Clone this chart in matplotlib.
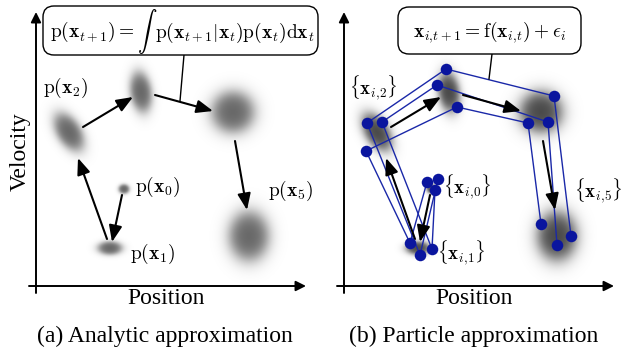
import numpy as np
import matplotlib
matplotlib.use('Agg')
import matplotlib.pyplot as plt
from matplotlib.patches import FancyBboxPatch

plt.rcParams['mathtext.fontset'] = 'cm'
plt.rcParams['font.family'] = ['Liberation Serif', 'DejaVu Serif']

W, H = 622, 347
DX = 308  # horizontal offset of the right panel

# ---- data (pixel-space diagram coordinates) ----
blob_x = [124, 110, 69, 141, 233, 249]
blob_y = [189, 248, 132, 92, 112, 236]
blob_a = [8, 18, 31, 30, 32, 37]      # semi-axis along angle
blob_b = [7, 10, 18, 16, 31, 30]      # perpendicular semi-axis
blob_ang = [0, 0, 58, 82, 0, 90]      # degrees (image coords)

arrow_start = [(122, 195), (107, 239), (83, 127), (155, 95), (235, 141)]
arrow_end = [(112, 242), (78, 158), (133, 97), (213, 111), (247, 210)]

left_labels = [r'$\mathrm{p}(\mathbf{x}_0)$', r'$\mathrm{p}(\mathbf{x}_1)$',
               r'$\mathrm{p}(\mathbf{x}_2)$', r'$\mathrm{p}(\mathbf{x}_5)$']
left_label_pos = [(135, 187), (130, 254), (43, 88), (268, 191)]
right_labels = [r'$\{\mathbf{x}_{i,\!0}\}$', r'$\{\mathbf{x}_{i,\!1}\}$',
                r'$\{\mathbf{x}_{i,\!2}\}$', r'$\{\mathbf{x}_{i,\!5}\}$']
right_label_pos = [(443, 187), (437, 253), (349, 88), (574, 191)]

traj_x = [[438, 420, 367, 446, 554, 571],
          [435, 432, 382, 437, 548, 557],
          [427, 410, 366, 457, 528, 541]]
traj_y = [[179, 255, 123, 69, 96, 236],
          [190, 249, 122, 85, 122, 245],
          [182, 243, 151, 107, 123, 224]]

eq_left_a = r'$\mathrm{p}(\mathbf{x}_{t+1}) = \int$'
eq_left_b = r'$\mathrm{p}(\mathbf{x}_{t+1}|\mathbf{x}_t)\mathrm{p}(\mathbf{x}_t)\mathrm{d}\mathbf{x}_t$'
eq_right = r'$\mathbf{x}_{i,\!t+1} = \mathrm{f}(\mathbf{x}_{i,\!t}) + \epsilon_i$'

fig = plt.figure(figsize=(W / 100, H / 100), dpi=100)
ax = fig.add_axes([0, 0, 1, 1])
ax.set_xlim(0, W)
ax.set_ylim(H, 0)
ax.axis('off')

# ---- blobs ----
yy, xx = np.mgrid[0:H, 0:W] + 0.5
alpha = np.zeros((H, W))
for off, peak in [(0, 0.6), (DX, 0.72)]:
    for cx, cy, a, b, ang in zip(blob_x, blob_y, blob_a, blob_b, blob_ang):
        t = np.deg2rad(ang)
        dx = xx - (cx + off)
        dy = yy - cy
        u = dx * np.cos(t) + dy * np.sin(t)
        v = -dx * np.sin(t) + dy * np.cos(t)
        d = np.sqrt((u / a) ** 2 + (v / b) ** 2)
        al = peak / (1 + np.exp((d - 0.62) / 0.14))
        alpha = 1 - (1 - alpha) * (1 - al)
img = np.zeros((H, W, 4))
img[..., 3] = alpha
ax.imshow(img, extent=(0, W, H, 0), zorder=1, interpolation='bilinear')

# ---- axes arrows ----
for off in [0, DX]:
    ax.annotate('', xy=(36 + off, 12), xytext=(36 + off, 293),
                arrowprops=dict(arrowstyle='-|>', lw=1.4, color='black',
                                mutation_scale=15, shrinkA=0, shrinkB=0), zorder=5)
    ax.annotate('', xy=(306 + off, 286), xytext=(29 + off, 286),
                arrowprops=dict(arrowstyle='-|>', lw=1.4, color='black',
                                mutation_scale=15, shrinkA=0, shrinkB=0), zorder=5)
    ax.text(166 + off, 304, 'Position', fontsize=17, ha='center', va='baseline')

ax.text(20, 152, 'Velocity', fontsize=17, ha='center', va='center', rotation=90)
ax.text(165, 342, '(a) Analytic approximation', fontsize=17, ha='center', va='baseline')
ax.text(474, 342, '(b) Particle approximation', fontsize=17, ha='center', va='baseline')

# ---- transition arrows ----
for off in [0, DX]:
    for s, e in zip(arrow_start, arrow_end):
        ax.annotate('', xy=(e[0] + off, e[1]), xytext=(s[0] + off, s[1]),
                    arrowprops=dict(arrowstyle='-|>,head_length=0.55,head_width=0.22',
                                    lw=1.5, color='black',
                                    mutation_scale=18, shrinkA=0, shrinkB=0), zorder=4)

# ---- particles ----
for tx, ty in zip(traj_x, traj_y):
    ax.plot(tx, ty, color='#1a28a8', lw=1.0, zorder=3)
for tx, ty in zip(traj_x, traj_y):
    ax.plot(tx, ty, 'o', color='#0a159e', ms=8.3, mec='none', zorder=6)

# ---- labels ----
for s, (x, y) in zip(left_labels, left_label_pos):
    ax.text(x, y, s, fontsize=14, ha='left', va='center', zorder=7)
for s, (x, y) in zip(right_labels, right_label_pos):
    ax.text(x, y, s, fontsize=13.5, ha='left', va='center', zorder=7)

# ---- equation boxes ----
for (x0, y0, x1, y1), (lx0, ly0, lx1, ly1) in [
        ((43, 6, 318, 55), (184, 55, 180, 101)),
        ((398, 7, 581, 54), (492, 54, 489, 79))]:
    box = FancyBboxPatch((x0, y0), x1 - x0, y1 - y0,
                         boxstyle='round,pad=0,rounding_size=11',
                         fc='white', ec='black', lw=1.0, zorder=8)
    ax.add_patch(box)
    ax.plot([lx0, lx1], [ly0, ly1], color='black', lw=1.0, zorder=7)

ax.text(50, 38, eq_left_a, fontsize=14, ha='left', va='baseline', zorder=9)
ax.text(155, 38, eq_left_b, fontsize=14, ha='left', va='baseline', zorder=9)
ax.text(490, 32, eq_right, fontsize=14, ha='center', va='center', zorder=9)

fig.savefig('out.png', dpi=100)
